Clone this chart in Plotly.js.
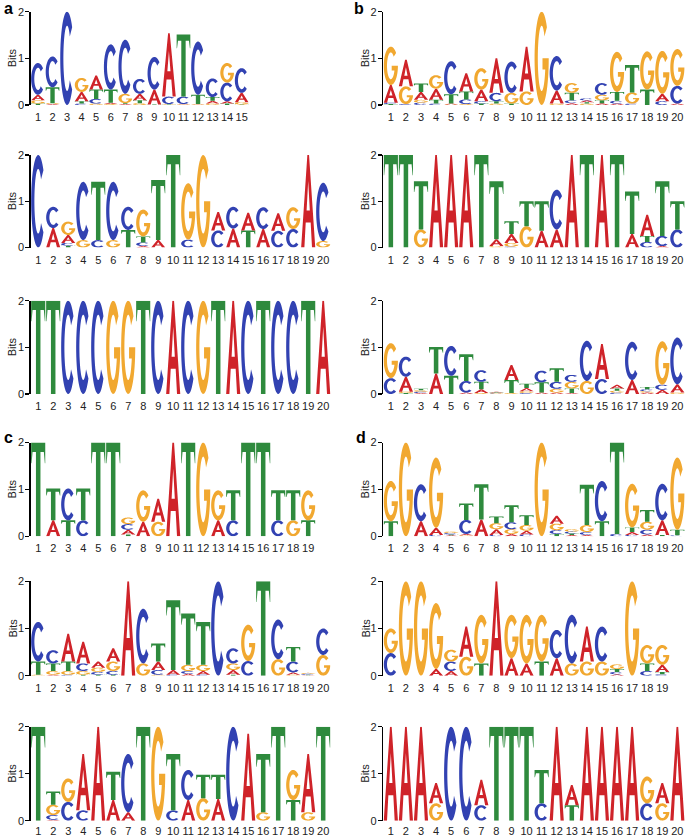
<!DOCTYPE html>
<html><head><meta charset="utf-8">
<script src="https://cdn.plot.ly/plotly-3.0.1.min.js"></script>
<style>html,body{margin:0;padding:0;background:#fff}#chart{width:685px;height:836px}</style>
</head><body><div id="chart"></div>
<script>
// ---------- tick labels ----------
const ticks15 = ['1','2','3','4','5','6','7','8','9','10','11','12','13','14','15'];
const ticks19 = ['1','2','3','4','5','6','7','8','9','10','11','12','13','14','15','16','17','18','19'];
const ticks20 = ['1','2','3','4','5','6','7','8','9','10','11','12','13','14','15','16','17','18','19','20'];
const yTicks = ['0','1','2'];
const yTitle = 'Bits';

// ---------- letter heights (bits) per position ----------
// panel a, logo 1
const a1A = [0.12,0.02,0,0.20,0.30,0.03,0.02,0.14,0.32,1.36,0.01,0.01,0.06,0.05,0.20];
const a1C = [0.68,0.66,2.00,0.03,0.10,0.97,1.16,0.32,0.70,0.16,0.16,1.14,0.40,0.40,0.53];
const a1G = [0.07,0.02,0,0.30,0.03,0.02,0.20,0.04,0,0.01,0.01,0.01,0.03,0.42,0.05];
const a1T = [0.03,0.34,0,0.05,0.20,0.28,0.02,0.06,0.01,0.01,1.33,0.20,0.08,0.03,0.01];
// panel b, logo 1
const b1A = [0.38,0.57,0.17,0.24,0.02,0.39,0.25,0.74,0,0.96,0,0.28,0.04,0.04,0.04,0.03,0,0,0.16,0.03];
const b1C = [0.03,0.02,0.05,0.03,0.71,0.10,0.05,0.18,0.67,0,0,0.74,0.06,0.04,0.25,0.06,0.03,0,0.08,0.38];
const b1G = [0.82,0.38,0.06,0.29,0.01,0.02,0.46,0.03,0.23,0.29,2.00,0.03,0.21,0.03,0.12,0.86,0.24,0.82,0.92,0.79];
const b1T = [0.02,0,0.18,0.08,0.20,0.17,0.03,0.05,0.03,0,0,0,0.16,0.03,0.06,0.19,0.59,0.33,0,0];
// panel a, logo 2
const a2A = [0,0.42,0.17,0,0,0,0,0.03,0.16,0,0,0,0.40,0.41,0.38,0.40,0.38,0,2.00,0];
const a2C = [2.00,0.46,0.06,1.26,0.16,1.26,0.50,0.08,0,0,0.17,0,0.37,0.47,0,0.47,0.36,0.40,0,1.26];
const a2G = [0,0,0.29,0.16,0,0.16,0,0.58,0,0,1.22,2.00,0,0,0,0,0,0.47,0,0.14];
const a2T = [0,0,0.04,0,1.26,0,0.38,0.13,1.30,2.00,0,0,0,0,0.37,0,0,0,0,0];
// panel b, logo 2
const b2A = [0,0,0,2.00,2.00,2.00,0,0.15,0.19,0,0.36,0.39,2.00,0,2.00,0,0.29,0.46,0.03,0];
const b2C = [0,0,0,0,0,0,0,0,0.02,0,0,0.86,0,0,0,0,0,0.12,0.22,0.39];
const b2G = [0,0,0.39,0,0,0,0,0.03,0.08,0.46,0,0,0,0,0,0,0,0,0,0];
const b2T = [2.00,2.00,1.04,0,0,0,2.00,1.25,0.28,0.54,0.64,0,0,2.00,0,2.00,0.92,0.13,1.18,0.61];
// panel a, logo 3
const a3A = [0,0,0,0,0,0,0,0,0,2.00,0,0,0,2.00,0,0,0,0,0,2.00];
const a3C = [0,0,2.00,2.00,2.00,0,0,0,2.00,0,2.00,0,0,0,2.00,0,2.00,2.00,0,0];
const a3G = [0,0,0,0,0,2.00,2.00,0,0,0,0,2.00,0,0,0,0,0,0,0,0];
const a3T = [2.00,2.00,0,0,0,0,0,2.00,0,0,0,0,2.00,0,0,2.00,0,0,2.00,0];
// panel b, logo 3
const b3A = [0,0.32,0.02,0.44,0,0.03,0.08,0.02,0.32,0.07,0.03,0.03,0.02,0,0.75,0.08,0.30,0.03,0.09,0.18];
const b3C = [0.34,0.43,0.03,0,0.64,0.25,0.25,0.01,0,0.02,0.25,0.15,0.15,0.86,0.32,0.03,0.82,0.04,0.11,1.00];
const b3G = [0.75,0.03,0.03,0,0,0,0.02,0.01,0.02,0.04,0,0.08,0.14,0.28,0,0.04,0,0.03,0.93,0.03];
const b3T = [0,0.02,0.03,0.57,0.39,0.57,0.16,0.01,0.28,0.09,0.22,0.29,0.10,0,0,0.05,0,0.05,0,0];
// panel c, logo 1
const c1A = [0,0.34,0,0,0,0,0.10,0.31,0.49,2.00,0,0,0.34,0,0,0,0,0,0];
const c1C = [0,0,0.68,0.34,0,0,0.12,0,0,0,0,0,0,0.34,0,0,0.34,0,0];
const c1G = [0,0,0,0,0,0,0.14,0.67,0.31,0,0,2.00,0.64,0,0,0,0,0.34,0.64];
const c1T = [2.00,0.68,0.34,0.68,2.00,2.00,0.04,0,0,0,2.00,0,0,0.64,2.00,2.00,0.64,0.64,0.34];
// panel d, logo 1
const d1A = [0,0,0.32,0.15,0.02,0.03,0.36,0.12,0.05,0.08,0,0.17,0.03,0.03,0,0,0.06,0.04,0.31,0];
const d1C = [0,0,0.79,0.03,0.03,0.30,0,0.03,0.15,0.04,0,0.08,0.04,0.06,0.86,0.05,0.03,0.10,0.78,0.02];
const d1G = [0.86,2.00,0,1.50,0.03,0.02,0,0.13,0.10,0.12,2.00,0.14,0.05,0.15,0,0,0.93,0.17,0,1.54];
const d1T = [0.32,0,0,0,0.02,0.35,0.75,0.14,0.36,0.21,0,0.05,0.03,0.86,0.32,1.95,0.10,0.25,0.03,0.12];
// panel c, logo 2
const c2A = [0,0.02,0.59,0.46,0.13,0.28,2.00,0,0.18,0.10,0.04,0.08,0,0.10,0,0,0,0.05,0.01,0];
const c2C = [0.84,0.28,0.02,0.16,0.06,0.08,0,1.16,0.10,0.02,0.06,0.02,2.00,0.32,0.31,0,0.84,0.23,0.02,0.56];
const c2G = [0.02,0.08,0.08,0.08,0.09,0.20,0,0.26,0.02,0,0.13,0.13,0,0.14,0.77,0,0.35,0.02,0.02,0.44];
const c2T = [0.28,0.16,0.20,0.02,0.02,0.02,0,0,0.38,1.48,1.09,0.91,0,0.02,0,2.00,0,0.31,0.01,0];
// panel d, logo 2
const d2A = [0,0,0,0.14,0.10,0.64,0,2.00,0.37,0.26,0,0.37,0,0.74,0,0.03,0,0,0.15];
const d2C = [0.48,0,0,0,0.20,0,0,0,0,0,0,0.60,1.03,0,0.74,0.05,0,0.10,0.03];
const d2G = [0.52,2.00,2.00,1.40,0.25,0.40,1.03,0,0.92,1.03,0.99,0,0.26,0.30,0.30,0.10,2.00,0.39,0.42];
const d2T = [0,0,0,0,0,0,0.26,0,0,0,0.30,0,0,0,0,0.06,0,0.16,0.05];
// panel c, logo 3
const c3A = [0,0.02,0,1.20,2.00,0.44,0.18,0,0,0,0.44,0,0.46,0,1.85,0,0,0,1.24,0];
const c3C = [0,0.10,0.40,0.22,0,0,1.24,0,0,0.22,0.64,0,0,2.00,0,0,0,0,0,0];
const c3G = [0,0.22,0.50,0,0,0,0,0,2.00,0,0,0.48,0,0,0,0.18,0,0.64,0.18,0];
const c3T = [2.00,0.28,0,0,0,0.60,0,2.00,0,1.20,0,0.50,0.52,0,0,1.24,2.00,0.44,0,2.00];
// panel d, logo 3
const d3A = [2.00,2.00,2.00,0.43,0,0,0.54,0,0,0,0,2.00,0.43,2.00,2.00,2.00,2.00,0,0.43,2.00];
const d3C = [0,0,0,0,2.00,2.00,0.33,0,0,0,0.37,0,0,0,0,0,0,0.37,0,0];
const d3G = [0,0,0,0.37,0,0,0,0,0,0,0,0,0,0,0,0,0,0.57,0.37,0];
const d3T = [0,0,0,0,0,0,0,2.00,2.00,2.00,0.71,0,0.33,0,0,0,0,0,0,0];

// ---------- layout geometry (pixels) ----------
const W = 685, H = 836;
const rowsPx = [[11.7,105],[155,247.5],[300.7,394],[442.5,536.3],[581.3,675.7],[726.7,820.7]];
const rowStandoff = [4, 4, 4, 4, 4, 2];
const colX0 = [30.7, 383.3];
const colStep = [15.0, 15.08];
const titleX = [12, 365];

const logos = [
  {A:a1A,C:a1C,G:a1G,T:a1T,ticks:ticks15,col:0,row:0,step:14.55},
  {A:b1A,C:b1C,G:b1G,T:b1T,ticks:ticks20,col:1,row:0},
  {A:a2A,C:a2C,G:a2G,T:a2T,ticks:ticks20,col:0,row:1},
  {A:b2A,C:b2C,G:b2G,T:b2T,ticks:ticks20,col:1,row:1},
  {A:a3A,C:a3C,G:a3G,T:a3T,ticks:ticks20,col:0,row:2},
  {A:b3A,C:b3C,G:b3G,T:b3T,ticks:ticks20,col:1,row:2},
  {A:c1A,C:c1C,G:c1G,T:c1T,ticks:ticks19,col:0,row:3},
  {A:d1A,C:d1C,G:d1G,T:d1T,ticks:ticks20,col:1,row:3},
  {A:c2A,C:c2C,G:c2G,T:c2T,ticks:ticks20,col:0,row:4},
  {A:d2A,C:d2C,G:d2G,T:d2T,ticks:ticks19,col:1,row:4},
  {A:c3A,C:c3C,G:c3G,T:c3T,ticks:ticks20,col:0,row:5},
  {A:d3A,C:d3C,G:d3G,T:d3T,ticks:ticks20,col:1,row:5}
];

const LETTERS = ['A','C','G','T'];
const COLORS = {A:'#cf2329', C:'#3242b2', G:'#f1a830', T:'#2e8a3d'};
const FONT = 'Liberation Sans, Arial, Helvetica, sans-serif';

// ---------- glyph outlines in a unit box ----------
function arc(cx, cy, rx, ry, a0, a1, n) {
  const p = [];
  for (let i = 0; i <= n; i++) {
    const t = (a0 + (a1 - a0) * i / n) * Math.PI / 180;
    p.push([cx + rx * Math.cos(t), cy + ry * Math.sin(t)]);
  }
  return p;
}
const GLYPH = {
  A: [[[0,0],[0.44,1],[0.56,1],[1,0],[0.77,0],[0.675,0.27],[0.325,0.27],[0.23,0]],
      [[0.386,0.40],[0.5,0.72],[0.614,0.40]]],
  C: [arc(0.5,0.5,0.5,0.5,42,318,48).concat(arc(0.5,0.5,0.27,0.35,318,42,48))],
  G: [arc(0.5,0.5,0.5,0.5,42,360,52).concat([[0.56,0.5],[0.56,0.38],[0.74,0.38]])
        .concat(arc(0.5,0.5,0.27,0.35,340,42,48))],
  T: [[[0,1],[1,1],[1,0.78],[0.97,0.78],[0.9,0.9],[0.66,0.9],[0.66,0],[0.34,0],
       [0.34,0.9],[0.1,0.9],[0.03,0.78],[0,0.78]]]
};
function glyphPath(letter, xc, w, y0, h) {
  return GLYPH[letter].map(poly =>
    'M' + poly.map(p => (xc - w/2 + p[0]*w).toFixed(4) + ',' + (y0 + p[1]*h).toFixed(5)).join('L') + 'Z'
  ).join(' ');
}

const traces = [];
const shapes = [];
const annotations = [
  {text:'<b>a</b>', x:2/W, y:1-9/H, xref:'paper', yref:'paper', xanchor:'left', yanchor:'middle', showarrow:false, font:{size:16, color:'#000', family:FONT}},
  {text:'<b>b</b>', x:352/W, y:1-9/H, xref:'paper', yref:'paper', xanchor:'left', yanchor:'middle', showarrow:false, font:{size:16, color:'#000', family:FONT}},
  {text:'<b>c</b>', x:2/W, y:1-437/H, xref:'paper', yref:'paper', xanchor:'left', yanchor:'middle', showarrow:false, font:{size:16, color:'#000', family:FONT}},
  {text:'<b>d</b>', x:354/W, y:1-437.5/H, xref:'paper', yref:'paper', xanchor:'left', yanchor:'middle', showarrow:false, font:{size:16, color:'#000', family:FONT}}
];
const layout = {
  width: W, height: H,
  margin: {l:0, r:0, t:0, b:0},
  paper_bgcolor: '#fff', plot_bgcolor: 'rgba(0,0,0,0)',
  showlegend: false,
  font: {family: FONT, size: 11, color: '#222'},
  shapes: shapes,
  annotations: annotations
};

logos.forEach((lg, idx) => {
  const k = idx + 1;
  const xa = k === 1 ? 'x' : 'x' + k;
  const ya = k === 1 ? 'y' : 'y' + k;
  const N = lg.ticks.length;
  const step = lg.step || colStep[lg.col];
  const x0 = colX0[lg.col];
  const x1 = Math.min(W, x0 + N * step);
  const [ytop, ybot] = rowsPx[lg.row];
  const pos = lg.ticks.map((t, i) => i + 1);

  layout['xaxis' + (k === 1 ? '' : k)] = {
    domain: [x0 / W, x1 / W], range: [0.5, N + 0.5], anchor: ya,
    tickmode: 'array', tickvals: pos, ticktext: lg.ticks,
    showgrid: false, zeroline: false, showline: false, ticks: '',
    tickfont: {size: 11, family: FONT, color: '#222'}, ticklabelstandoff: rowStandoff[lg.row],
    fixedrange: true
  };
  layout['yaxis' + (k === 1 ? '' : k)] = {
    domain: [1 - ybot / H, 1 - ytop / H], range: [0, 2], anchor: xa,
    tickmode: 'array', tickvals: [0, 1, 2], ticktext: yTicks,
    ticks: 'outside', ticklen: 4, tickwidth: 1.2, tickcolor: '#000',
    showline: true, linecolor: '#000', linewidth: 1.4,
    showgrid: false, zeroline: false, ticklabelstandoff: -1,
    tickfont: {size: 11, family: FONT, color: '#222'},
    fixedrange: true
  };
  // axis title "Bits", beside the tick labels, centred on 1 bit
  annotations.push({text: yTitle, textangle: -90, xref: 'paper', yref: ya,
    x: titleX[lg.col] / W, y: 1, xanchor: 'center', yanchor: 'middle', showarrow: false,
    font: {size: 11, family: FONT, color: '#222'}});

  const totals = [];
  pos.forEach((p, i) => {
    const stack = LETTERS.map(L => ({L: L, h: lg[L][i] || 0}))
      .filter(o => o.h > 0.004)
      .sort((a, b) => a.h - b.h);
    let y = 0;
    stack.forEach(o => {
      shapes.push({
        type: 'path', xref: xa, yref: ya, layer: 'above',
        path: glyphPath(o.L, p, 0.94, y, o.h),
        fillcolor: COLORS[o.L], line: {width: 0}
      });
      y += o.h;
    });
    totals.push(y);
  });
  traces.push({type: 'scatter', mode: 'markers', x: pos, y: totals, xaxis: xa, yaxis: ya,
    marker: {size: 1, opacity: 0}, hoverinfo: 'skip'});
});

Plotly.newPlot('chart', traces, layout, {displayModeBar: false, staticPlot: true});
</script>
</body></html>
